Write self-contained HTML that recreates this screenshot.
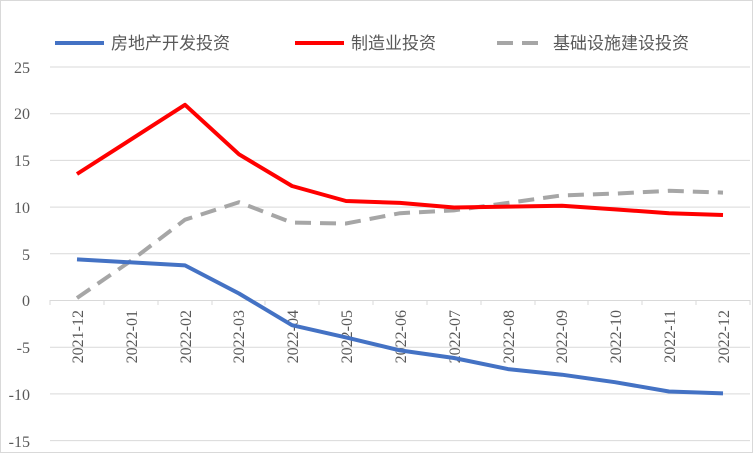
<!DOCTYPE html>
<html><head><meta charset="utf-8"><style>
body{margin:0;background:#fff}
svg{display:block}
.s{font-family:"Liberation Serif","Times New Roman","DejaVu Serif","Noto Serif CJK SC",serif;font-size:16px;fill:#595959}
.l{font-family:"Liberation Sans","Noto Sans CJK SC",sans-serif;font-size:17px;fill:#595959}
</style></head><body>
<svg width="753" height="453" xmlns="http://www.w3.org/2000/svg">
<rect x="0.5" y="0.5" width="752" height="452" fill="#fff" stroke="#d9d9d9"/>
<g stroke="#d9d9d9" stroke-width="1">
<line x1="50" x2="750" y1="67" y2="67"/>
<line x1="50" x2="750" y1="113.7" y2="113.7"/>
<line x1="50" x2="750" y1="160.4" y2="160.4"/>
<line x1="50" x2="750" y1="207.1" y2="207.1"/>
<line x1="50" x2="750" y1="253.8" y2="253.8"/>
<line x1="50" x2="750" y1="347.2" y2="347.2"/>
<line x1="50" x2="750" y1="393.9" y2="393.9"/>
<line x1="50" x2="750" y1="440.6" y2="440.6"/>
<line x1="50" x2="750" y1="300.5" y2="300.5"/>
<line x1="50" x2="50" y1="300" y2="305"/><line x1="104" x2="104" y1="300" y2="305"/><line x1="158" x2="158" y1="300" y2="305"/><line x1="212" x2="212" y1="300" y2="305"/><line x1="265" x2="265" y1="300" y2="305"/><line x1="319" x2="319" y1="300" y2="305"/><line x1="373" x2="373" y1="300" y2="305"/><line x1="427" x2="427" y1="300" y2="305"/><line x1="481" x2="481" y1="300" y2="305"/><line x1="535" x2="535" y1="300" y2="305"/><line x1="588" x2="588" y1="300" y2="305"/><line x1="642" x2="642" y1="300" y2="305"/><line x1="696" x2="696" y1="300" y2="305"/><line x1="750" x2="750" y1="300" y2="305"/>
</g>
<g class="s" text-anchor="end">
<text x="30" y="73">25</text><text x="30" y="119">20</text><text x="30" y="166">15</text><text x="30" y="213">10</text><text x="30" y="260">5</text><text x="30" y="306">0</text><text x="30" y="353">-5</text><text x="30" y="400">-10</text><text x="30" y="447">-15</text>
</g>
<g class="s" text-anchor="end">
<text transform="translate(83,310) rotate(-90)">2021-12</text>
<text transform="translate(137,310) rotate(-90)">2022-01</text>
<text transform="translate(191,310) rotate(-90)">2022-02</text>
<text transform="translate(244,310) rotate(-90)">2022-03</text>
<text transform="translate(298,310) rotate(-90)">2022-04</text>
<text transform="translate(352,310) rotate(-90)">2022-05</text>
<text transform="translate(406,310) rotate(-90)">2022-06</text>
<text transform="translate(460,310) rotate(-90)">2022-07</text>
<text transform="translate(514,310) rotate(-90)">2022-08</text>
<text transform="translate(567,310) rotate(-90)">2022-09</text>
<text transform="translate(621,310) rotate(-90)">2022-10</text>
<text transform="translate(675,310) rotate(-90)">2022-11</text>
<text transform="translate(729,310) rotate(-90)">2022-12</text>
</g>
<polyline fill="none" stroke="#a6a6a6" stroke-width="4" stroke-dasharray="16,9" points="77,298 131,260.8 185,219.7 239,202.2 292,222.6 346,223.5 400,213.2 454,210.4 508,202.9 562,195.4 615,193.6 669,190.8 723,192.6"/>
<polyline fill="none" stroke="#ff0000" stroke-width="4" stroke-linejoin="round" points="77,174 185,104.8 239,154.3 292,186 346,201 400,202.9 454,207.5 508,206.6 562,205.7 615,209.4 669,213.2 723,215"/>
<polyline fill="none" stroke="#4472c4" stroke-width="4" stroke-linejoin="round" points="77,259.4 185,265.4 239,293.5 292,325.2 346,337.4 400,350.4 454,358 508,369.1 562,374.7 615,382.2 669,391.5 723,393.4"/>
<line x1="55" x2="104" y1="43" y2="43" stroke="#4472c4" stroke-width="4"/>
<line x1="295" x2="344" y1="43" y2="43" stroke="#ff0000" stroke-width="4"/>
<line x1="497" x2="546" y1="43" y2="43" stroke="#a6a6a6" stroke-width="4" stroke-dasharray="16,9"/>
<g class="l">
<text x="111" y="49">房地产开发投资</text>
<text x="351" y="49">制造业投资</text>
<text x="553" y="49">基础设施建设投资</text>
</g>
</svg>
</body></html>
